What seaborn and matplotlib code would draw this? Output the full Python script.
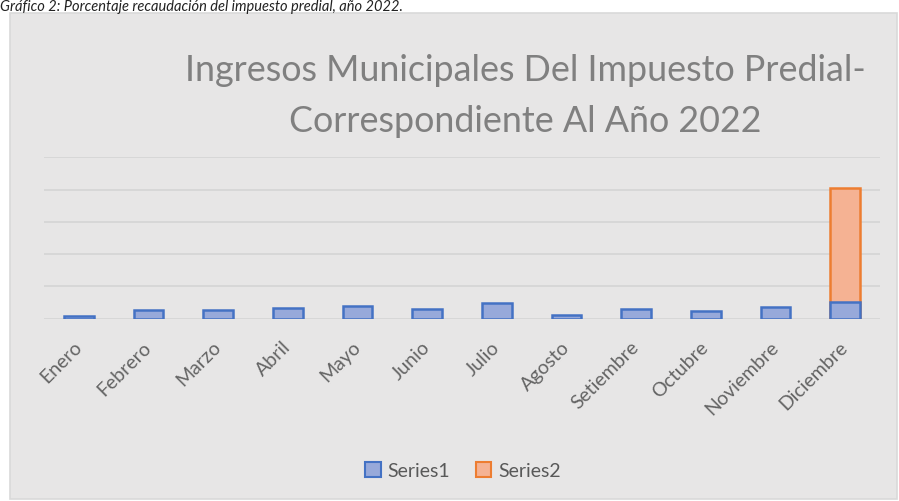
import numpy as np
import pandas as pd
import seaborn as sns
import matplotlib.pyplot as plt
from matplotlib.patches import Rectangle, Patch

# ======================
# Data
# ======================

meses = ["Enero", "Febrero", "Marzo", "Abril", "Mayo", "Junio",
         "Julio", "Agosto", "Setiembre", "Octubre", "Noviembre", "Diciembre"]

series1 = [0.07, 0.28, 0.26, 0.32, 0.39, 0.30, 0.50, 0.10, 0.29, 0.24, 0.35, 0.52]
series2 = [np.nan] * 11 + [3.52]

df = pd.DataFrame({"mes": meses, "s1": series1, "s2": series2})
df["total"] = df["s1"] + df["s2"]

# ======================
# Style
# ======================

sns.set_style("white")
plt.rcParams["font.family"] = ["Lato", "DejaVu Sans"]

BG = "#e7e6e6"
GRID = "#d4d4d4"
BLUE_EDGE = "#4472c4"
BLUE_FILL = "#97a9da"
ORANGE_EDGE = "#ed7d31"
ORANGE_FILL = "#f5b293"

fig = plt.figure(figsize=(8.99, 5.02), dpi=100)
fig.patch.set_facecolor("white")

# chart box
fig.patches.append(Rectangle((10 / 899, 2 / 502), 887 / 899, 486 / 502,
                             transform=fig.transFigure, facecolor=BG,
                             edgecolor="#d9d9d9", linewidth=1.2, zorder=-1))

# caption
fig.text(0.0, 1 - 11 / 502, "Gráfico 2: Porcentaje recaudación del impuesto predial, año 2022.",
         fontsize=10.5, style="italic", color="#222222", va="baseline", ha="left")

ax = fig.add_axes([44 / 899, 182.3 / 502, 836 / 899, 161.4 / 502])
ax.set_facecolor("none")
ax.set_zorder(1)

# ======================
# Bars
# ======================

sns.barplot(data=df, x="mes", y="total", order=meses, ax=ax,
            color=ORANGE_FILL, edgecolor=ORANGE_EDGE, linewidth=1.8,
            width=0.43, saturation=1, zorder=3)

sns.barplot(data=df, x="mes", y="s1", order=meses, ax=ax,
            color=BLUE_FILL, edgecolor=BLUE_EDGE, linewidth=1.8,
            width=0.43, saturation=1, zorder=4)

ax.set_ylim(0, 5)
ax.set_xlim(-0.5, 11.5)
ax.set_yticks(range(0, 6))
ax.set_yticklabels([])
ax.grid(axis="y", color=GRID, linewidth=1.2, zorder=0)
ax.set_axisbelow(True)
for s in ax.spines.values():
    s.set_visible(False)

ax.set_xlabel("")
ax.set_ylabel("")
ax.tick_params(axis="both", length=0)
ax.tick_params(axis="x", pad=18)
plt.setp(ax.get_xticklabels(), rotation=45, ha="right", va="center",
         rotation_mode="anchor", color="#646464", fontsize=14)

# ======================
# Title and legend
# ======================

fig.text(0.584, 1 - 96 / 502, "Ingresos Municipales Del Impuesto Predial-\nCorrespondiente Al Año 2022",
         ha="center", va="center", fontsize=25.8, color="#808080", linespacing=1.65)

handles = [Patch(facecolor=BLUE_FILL, edgecolor=BLUE_EDGE, linewidth=1.5, label="Series1"),
           Patch(facecolor=ORANGE_FILL, edgecolor=ORANGE_EDGE, linewidth=1.5, label="Series2")]
fig.legend(handles=handles, loc="center", bbox_to_anchor=(0.515, 0.06), ncol=2,
           frameon=False, fontsize=14, labelcolor="#595959",
           handlelength=0.8, handleheight=0.8, handletextpad=0.35, columnspacing=1.3)

fig.savefig("out.png", dpi=100)
